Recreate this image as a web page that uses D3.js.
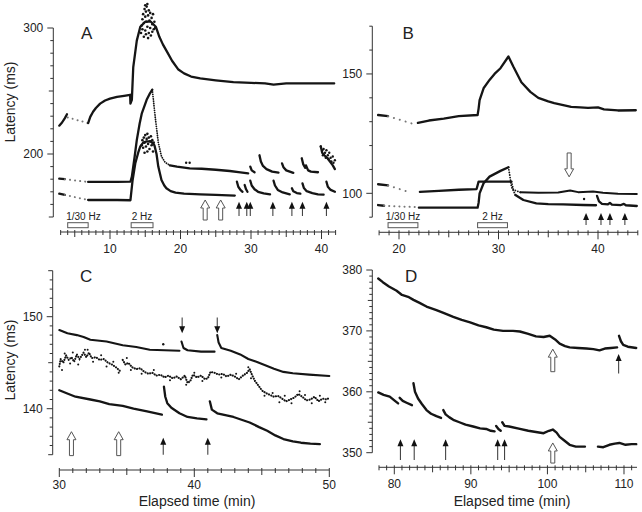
<!DOCTYPE html>
<html><head><meta charset="utf-8">
<script src="https://cdn.jsdelivr.net/npm/d3@7"></script>
<style>body{margin:0;background:#fff}svg{display:block}text{font-family:Arial,"Liberation Sans",sans-serif;fill:#222}</style>
</head><body><svg id="c" width="642" height="512"></svg>
<script>
// ---------------- Panel A data ----------------
const aXTicks = [10, 20, 30, 40];
const aYTicks = [200, 300];
const aTopPre = [[2.8,222.5],[3.2,225],[3.6,228.5],[3.9,231.5]];
const aTopGap = [[4.0,229],[6.9,224.5]];
const aTopMain = [[6.9,224.5],[7.2,229.5],[7.6,233.5],[8.0,236.5],[8.6,240],[9.3,242.5],[10,244],[11,245.3],[12,246.2],[12.85,247],[12.9,240],[13.1,243],[13.3,269],[13.8,290],[14.3,301],[15.0,305],[15.8,305],[16.5,301],[17.0,293],[17.5,287],[18.0,282],[18.8,274],[19.7,267],[20.5,264],[21.5,261.5],[22.8,260],[25,258.5],[27.5,257],[30,256.5],[32,256],[33.2,255],[35,256],[38,256],[41.8,256]];
const aTopScatter = [[14.4,296],[14.5,302],[14.6,299],[14.6,307],[14.7,311],[14.8,304],[14.9,315],[15.0,309],[15.0,298],[15.1,313],[15.2,317],[15.2,305],[15.3,301],[15.4,310],[15.5,314],[15.5,296],[15.6,306],[15.7,312],[15.7,300],[15.8,294],[15.9,308],[16.0,303],[16.0,297],[16.1,311],[16.2,299],[16.3,305],[16.4,300],[15.4,292],[15.1,295],[14.8,293],[15.3,319],[15.0,318]];
const aMidPre = [[2.8,180.5],[3.6,180]];
const aMidGap = [[3.6,180],[6.9,177.8]];
const aMidMain = [[6.9,177.8],[9,177.8],[11,177.8],[12.9,178],[13.1,182],[13.5,198],[13.8,211],[14.2,224],[14.5,232],[15.2,243],[15.6,247.5],[16.0,251]];
const aMidFall = [[16.0,251],[16.4,230],[16.85,209],[17.3,198],[17.8,193.5],[18.5,191]];
const aMidSegs = [
  [[18.5,191],[19.5,190],[21.3,188.6],[23,188.3],[25,187.5],[27,186.5],[28.5,185.5],[29.6,184.7]],
  [[29.9,190],[30.1,187],[30.5,185.5]],
  [[31.2,199],[31.4,194],[31.7,190.5],[32.2,188],[33,186],[33.9,185.2]],
  [[34.4,192.6],[34.6,189.5],[35,187],[36,185]],
  [[37.2,196.6],[37.4,192],[37.7,189],[37.8,191],[38.1,187],[38.5,186],[39.5,185.5]],
  [[39.9,206],[40.1,201],[40.4,199],[40.8,197],[41.2,194],[41.6,191],[41.9,188]]
];
const aMidScatter = [[39.9,206],[40.1,203],[40.2,199],[40.3,204],[40.5,201],[40.6,197],[40.7,203],[40.9,199],[41.0,196],[41.1,201],[41.3,197],[41.4,194],[41.6,198],[41.7,193],[41.9,195],[20.8,193],[21.3,193]];
const aBotPre = [[2.8,168.5],[3.6,167.5]];
const aBotGap = [[3.6,167.5],[6.9,163.5]];
const aBotMain = [[6.9,163.5],[9,163.5],[11,163.5],[12.9,163.3],[13.2,179],[13.6,193],[14.0,201],[14.3,206],[14.7,209],[15.2,210],[15.8,210],[16.3,207],[16.6,200],[16.85,190],[17.3,179.4],[17.7,175],[18.0,172.8],[18.6,170.5],[19.3,169.3],[20.5,168.5],[22.8,168],[25,167.5],[27.7,167]];
const aBotScatter = [[14.5,207],[14.6,211],[14.7,205],[14.8,213],[14.9,209],[15.0,215],[15.1,206],[15.2,212],[15.3,216],[15.4,208],[15.5,213],[15.6,204],[15.7,210],[15.8,214],[15.9,207],[16.0,211],[16.1,202],[16.2,209],[15.3,202],[14.9,201]];
const aBotSegs = [
  [[28.0,178],[28.2,174],[28.5,171.5],[28.8,170]],
  [[29.1,175.4],[29.3,172],[29.5,170]],
  [[29.9,178.8],[30.1,175],[30.5,172],[31,170],[31.8,168.8],[32.7,168]],
  [[33.2,178.8],[33.4,175],[33.8,171.5],[34.5,169.5],[35.5,168]],
  [[35.8,172.8],[36.0,170.5],[36.5,169],[37.0,168.5]],
  [[37.3,176.7],[37.5,173],[37.9,170.5],[38.7,169],[39.5,168],[40.3,167.7]],
  [[40.7,178],[40.9,174],[41.3,171.5],[41.9,170]]
];
const aOpenArrows = [23.5, 25.7];
const aOpenArrowY = [163.5, 147.6];
const aArrows = [28.3, 29.4, 29.9, 33.1, 35.8, 37.3, 40.7];
const aArrowY = [162.1, 150.8];
const aBars = [["1/30 Hz", 4.0, 6.9], ["2 Hz", 13.0, 16.1]];

// ---------------- Panel B data ----------------
const bXTicks = [20, 30, 40];
const bYTicks = [100, 150];
const bTopPre = [[17.9,132.8],[18.9,132.3]];
const bTopGap = [[18.9,132.3],[21.8,128.6]];
const bTopMain = [[21.9,129.5],[23,130.5],[24.5,131.3],[26,132.3],[27.9,132.8],[28.0,135.5],[28.1,139],[28.5,144],[29.1,147.5],[29.6,150],[30.2,152.4],[31.0,157.3],[31.5,153],[32.3,146.5],[33.2,142.5],[34,140],[35,138.5],[35.6,137.8],[37.3,136.2],[38.2,136],[39,135.8],[40,136],[40.6,135.2],[42,134.7],[43.8,134.8]];
const bMidPre = [[17.9,103.8],[18.9,103.3]];
const bMidGap = [[18.9,103.3],[20.8,100.8]];
const bMidMain = [[22.1,100.6],[24,101],[26,101.5],[27.8,101.8],[28.0,104.9],[31.3,104.9]];
const bMidFall = [[31.3,104.9],[31.5,101.5],[32.2,100.4]];
const bMidTail = [[32.2,100.4],[34,100.2],[36,100.3],[37.2,101.2],[38,100.5],[39.5,100.8],[40.5,100.2],[42,99.8],[43.9,99.7]];
const bBotPre = [[17.9,95.1],[18.5,94.8]];
const bBotGap = [[18.5,94.8],[21.8,94.2]];
const bBotMain = [[22,94.0],[25,94.0],[27.9,94.0],[28.0,96],[28.1,100],[28.5,104.2],[29.1,107],[30.2,109.4],[31.0,110.9]];
const bBotFall = [[31.0,110.9],[31.1,108.4],[31.3,102.8],[31.7,99.3]];
const bBotTail = [[31.7,99.3],[32.5,97.2],[33.8,95.8],[35,95.5],[36.5,95.4],[38.5,95.1],[39.8,95.0]];
const bBotSpike = [[39.9,98.9],[40.1,96.6],[40.4,95.6],[41.0,95.4],[41.2,96.0],[41.4,95.3],[42.3,95.1],[42.6,95.6],[42.8,95.0],[43.9,94.7]];
const bDots = [[38.6,97.6]];
const bOpenArrows = [37.1];
const bOpenArrowY = [106.9, 116.9];
const bArrows = [38.8, 40.3, 41.2, 42.7];
const bArrowY = [91.8, 86.7];
const bBars = [["1/30 Hz", 18.9, 21.9], ["2 Hz", 27.9, 30.9]];

// ---------------- Panel C data ----------------
const cXTicks = [30, 40, 50];
const cYTicks = [140, 150];
const cTopSegs = [
  [[30.0,148.55],[30.6,148.2],[31.3,148.0],[31.8,147.8],[32.3,147.5],[33.5,147.3],[34.7,146.9],[35.7,146.7],[36.7,146.4],[37.8,146.35],[38.9,146.3]],
  [[39.05,147.3],[39.2,146.6],[39.5,146.35],[40.5,146.2],[41.5,146.2]],
  [[41.7,148.0],[41.8,147.2],[42.0,146.6],[42.7,146.3],[43.4,145.9],[44.0,145.4],[44.6,145.1],[45.3,144.7],[45.9,144.35],[46.6,144.0],[47.3,143.85],[48.5,143.7],[50.0,143.55]]
];
const cTopDots = [[37.7,147.0]];
const cMidSegs = [
  [[30.0,144.6],[30.1,145.4],[30.3,145.0],[30.5,145.8],[30.7,145.3],[30.9,145.6],[31.1,145.1],[31.3,145.9],[31.5,145.4],[31.8,146.1],[32.0,145.6],[32.2,146.1],[32.4,145.5],[32.7,145.6],[33.0,145.3],[33.3,145.4],[33.6,145.0],[33.9,144.8],[34.2,144.5],[34.5,144.1]],
  [[34.7,145.3],[34.9,144.8],[35.1,145.0],[35.4,144.5],[35.7,144.3],[36.0,144.4],[36.3,144.0],[36.6,143.8],[36.9,143.9],[37.2,143.6],[37.5,143.7],[37.8,143.4],[38.1,143.6],[38.4,143.3],[38.7,143.5],[39.0,143.2],[39.3,143.6],[39.5,142.8],[39.7,143.0],[39.9,143.7],[40.2,143.4],[40.5,143.6],[40.8,143.2],[41.0,143.3],
   [41.2,144.0],[41.5,143.9],[41.8,143.7],[42.1,143.8],[42.4,143.5],[42.7,143.7],[43.0,143.5],[43.3,143.2],[43.6,143.6],[43.9,143.9],[44.1,144.3],[44.3,143.6],[44.5,143.0],[44.7,142.6],[45.0,142.0],[45.3,141.7],[45.6,141.5],[45.9,141.3],[46.2,141.4],[46.5,141.1],[46.8,140.8],[47.1,141.0],[47.4,141.2],[47.7,141.6],[48.0,141.3],[48.3,140.9],[48.6,141.0],[48.9,141.3],[49.2,140.8],[49.5,141.1],[49.8,141.0],[50.0,141.2]]
];
const cMidScatter = [[30.2,144.2],[30.4,146.0],[30.8,144.9],[31.0,146.1],[31.4,144.8],[31.9,146.4],[32.1,146.4],[32.5,145.1],[33.1,145.8],[33.5,144.6],[34.0,145.1],[34.4,143.9],[35.0,145.5],[35.3,144.2],[36.1,143.8],[37.0,144.2],[38.2,143.1],[39.4,142.6],[40.0,143.9],[40.6,143.0],[42.0,143.4],[43.1,143.8],[44.0,144.5],[44.2,143.3],[45.2,141.4],[45.8,141.7],[46.3,140.7],[46.7,141.4],[47.2,140.6],[47.8,141.9],[48.2,141.5],[48.7,140.6],[49.3,141.4],[49.7,140.7]];
const cBotSegs = [
  [[30.0,142.0],[30.5,141.7],[31.2,141.3],[32.3,141.0],[33.0,140.8],[33.7,140.5],[34.7,140.3],[35.5,140.0],[36.5,139.7],[37.6,139.35]],
  [[37.75,142.4],[37.85,141.3],[38.0,140.6],[38.3,140.1],[38.9,139.5],[39.5,139.1],[40.2,138.95],[40.9,138.85]],
  [[41.15,140.8],[41.3,139.9],[41.7,139.5],[42.3,139.3],[42.9,139.1],[43.5,138.8],[44.1,138.5],[44.8,138.0],[45.4,137.6],[46.0,137.1],[46.6,136.7],[47.3,136.45],[47.9,136.3],[48.6,136.2],[49.3,136.15]]
];
const cOpenArrows = [30.9, 34.4];
const cOpenArrowY = [137.5, 134.9];
const cArrows = [37.7, 41.0];
const cArrowY = [136.85, 135.0];
const cDownArrows = [39.1, 41.7];
const cDownArrowY = [148.2, 149.9];

// ---------------- Panel D data ----------------
const dXTicks = [80, 90, 100, 110];
const dYTicks = [350, 360, 370, 380];
const dTopSegs = [
  [[77.9,378.6],[78.5,378.0],[79.3,377.3],[80.3,376.6],[81.0,375.9],[81.8,375.6],[82.5,375.1],[83.3,374.6],[84.2,374.0],[85.5,373.4],[86.5,372.9],[87.7,372.3],[88.8,371.8],[89.9,371.4],[91.0,370.9],[92.0,370.6],[93.0,370.2],[94.2,370.0],[95.5,370.0],[96.4,369.9],[97.5,369.5],[98.5,369.1],[99.5,369.0],[100.3,369.2],[101.0,368.6],[101.6,367.9],[102.3,367.5],[102.9,367.3],[104,367.2],[105.1,367.1],[106,367.0],[106.8,366.8],[107.5,367.1],[108.3,367.2],[109.1,367.3]],
  [[109.35,369.2],[109.6,368.3],[109.9,367.7],[110.5,367.4],[111.6,367.2]]
];
const dBotSegs = [
  [[77.9,359.9],[78.6,359.5],[79.4,359.2],[80.0,358.6],[80.5,358.1]],
  [[80.7,359.0],[81.1,358.5],[81.6,358.2],[82.3,357.8]],
  [[82.5,361.4],[82.7,360.0],[83.1,358.9],[83.6,358.0],[84.2,357.0],[84.8,356.4],[85.5,356.0],[86.1,355.7]],
  [[86.4,357.0],[86.7,356.3],[87.2,355.8],[87.7,355.4],[88.5,355.0],[89.3,354.6],[90.3,354.3],[91.2,354.0],[92.0,353.9],[92.6,353.6],[93.1,353.5]],
  [[93.3,354.4],[93.6,353.9],[93.9,353.6]],
  [[94.1,355.0],[94.4,354.4],[95.0,354.3],[96.4,353.9],[97.5,353.6],[98.5,353.4],[99.5,353.2],[100.2,353.6],[100.7,353.8],[101.2,353.3],[101.6,352.6],[102.2,352.0],[102.9,351.3],[103.7,351.0],[104.9,351.0]],
  [[106.6,351.0],[107.3,350.9],[108.1,351.3],[108.8,351.5],[109.4,351.6],[110.2,351.3],[111.0,351.4],[111.6,351.4]]
];
const dOpenArrows = [100.7];
const dOpenArrowTopY = [367.0, 363.3];
const dOpenArrowBotY = [351.6, 348.3];
const dArrows = [80.8, 82.6, 86.7, 93.5, 94.4];
const dArrowY = [352.2, 348.8];
const dTopArrows = [109.3];
const dTopArrowY = [366.2, 363.0];

// ---------------- drawing ----------------
const svg = d3.select("#c");
const INK = "#151515";

function panel(cfg) {
  const g = svg.append("g");
  const x = d3.scaleLinear().domain(cfg.xd).range(cfg.xr);
  const y = d3.scaleLinear().domain(cfg.yd).range(cfg.yr);
  g.append("line").attr("x1", cfg.yAxisX).attr("x2", cfg.yAxisX)
    .attr("y1", y(cfg.yd[0])).attr("y2", y(cfg.yd[1])).attr("stroke", "#333");
  const ys = d3.range(cfg.yd[0], cfg.yd[1] + 1e-6, cfg.yMinor);
  ys.forEach(v => {
    const major = cfg.yTicks.includes(v);
    const mid = !major && cfg.yMid && Math.abs(v % cfg.yMid) < 1e-6;
    const len = major ? 6 : (mid ? 4.5 : 3);
    g.append("line").attr("x1", cfg.yAxisX - len).attr("x2", cfg.yAxisX)
      .attr("y1", y(v)).attr("y2", y(v)).attr("stroke", "#333");
  });
  cfg.yTicks.forEach(v => {
    g.append("text").attr("x", cfg.yAxisX - 10).attr("y", y(v)).attr("dy", "0.36em")
      .attr("text-anchor", "end").attr("font-size", 12).text(v);
  });
  g.append("line").attr("x1", x(cfg.xd[0])).attr("x2", x(cfg.xd[1]))
    .attr("y1", cfg.xAxisY).attr("y2", cfg.xAxisY).attr("stroke", "#333");
  d3.range(Math.ceil(cfg.xd[0]), Math.floor(cfg.xd[1]) + 1, 1).forEach(v => {
    const major = v % 10 === 0, mid = v % 5 === 0;
    const up = 2, dn = major ? 7 : (mid ? 5 : 3);
    g.append("line").attr("x1", x(v)).attr("x2", x(v))
      .attr("y1", cfg.xAxisY - up).attr("y2", cfg.xAxisY + dn).attr("stroke", "#333");
  });
  cfg.xTicks.forEach(v => {
    g.append("text").attr("x", x(v)).attr("y", cfg.xAxisY + cfg.xLabOff)
      .attr("text-anchor", "middle").attr("font-size", 12).text(v);
  });
  g.append("text").attr("x", cfg.letter[1]).attr("y", cfg.letter[2])
    .attr("font-size", 17).text(cfg.letter[0]);
  return {g, x, y};
}

const line = (x, y) => d3.line().x(d => x(d[0])).y(d => y(d[1]));
function solid(p, pts, w) {
  p.g.append("path").datum(pts).attr("d", line(p.x, p.y)).attr("fill", "none")
    .attr("stroke", INK).attr("stroke-width", w || 2.3).attr("stroke-linejoin", "round").attr("stroke-linecap", "round");
}
function dotted(p, pts, color, gap, w) {
  p.g.append("path").datum(pts).attr("d", line(p.x, p.y)).attr("fill", "none")
    .attr("stroke", color || "#777").attr("stroke-width", w || 2).attr("stroke-linecap", "round")
    .attr("stroke-dasharray", "0.1," + (gap || 5));
}
function dots(p, pts, r) {
  p.g.selectAll(null).data(pts).enter().append("circle")
    .attr("cx", d => p.x(d[0])).attr("cy", d => p.y(d[1])).attr("r", r || 1.2).attr("fill", INK);
}
function openArrow(p, xv, tipV, tailV) {
  const px = p.x(xv), tip = p.y(tipV), tail = p.y(tailV);
  const dir = tail > tip ? 1 : -1, hl = 8, hw = 4.5, sw = 2;
  const pts = [[px, tip], [px + hw, tip + dir * hl], [px + sw, tip + dir * hl], [px + sw, tail],
               [px - sw, tail], [px - sw, tip + dir * hl], [px - hw, tip + dir * hl]];
  p.g.append("polygon").attr("points", pts.map(d => d.join(",")).join(" "))
    .attr("fill", "#fff").attr("stroke", "#555").attr("stroke-width", 1);
}
function arrow(p, xv, tipV, tailV) {
  const px = p.x(xv), tip = p.y(tipV), tail = p.y(tailV);
  const dir = tail > tip ? 1 : -1;
  p.g.append("line").attr("x1", px).attr("x2", px).attr("y1", tail).attr("y2", tip + dir * 5)
    .attr("stroke", "#444").attr("stroke-width", 1.1);
  p.g.append("polygon").attr("points", [[px, tip], [px + 3, tip + dir * 7], [px - 3, tip + dir * 7]].map(d => d.join(",")).join(" "))
    .attr("fill", "#111");
}
function bars(p, list, yTop, anchors) {
  list.forEach((b, i) => {
    const x0 = p.x(b[1]), x1 = p.x(b[2]);
    p.g.append("rect").attr("x", x0).attr("y", yTop).attr("width", x1 - x0).attr("height", 5)
      .attr("fill", "#fff").attr("stroke", "#555").attr("stroke-width", 1);
    const a = anchors ? anchors[i] : "middle";
    p.g.append("text").attr("x", a === "start" ? x0 - 1.5 : (x0 + x1) / 2).attr("y", yTop - 2.5)
      .attr("text-anchor", a).attr("font-size", 10).text(b[0]);
  });
}

// Panel A
const A = panel({xd:[3,42], xr:[60.65,335.6], yd:[150,300], yr:[217,28], yAxisX:53.3, yMinor:10, yMid:50,
  yTicks:aYTicks, xAxisY:232, xTicks:aXTicks, xLabOff:21, letter:["A",81,39]});
solid(A, aTopPre); dotted(A, aTopGap); solid(A, aTopMain); dots(A, aTopScatter, 1.3);
solid(A, aMidPre); dotted(A, aMidGap); solid(A, aMidMain); dotted(A, aMidFall, INK, 2.2, 1.8);
aMidSegs.forEach(s => solid(A, s)); dots(A, aMidScatter, 1.2);
solid(A, aBotPre); dotted(A, aBotGap); solid(A, aBotMain); dots(A, aBotScatter, 1.3);
aBotSegs.forEach(s => solid(A, s));
aOpenArrows.forEach(v => openArrow(A, v, aOpenArrowY[0], aOpenArrowY[1]));
aArrows.forEach(v => arrow(A, v, aArrowY[0], aArrowY[1]));
bars(A, aBars, 222.7, ["start", "middle"]);

// Panel B
const B = panel({xd:[18,44], xr:[379.1,637.8], yd:[90,170], yr:[217.2,26.2], yAxisX:372.3, yMinor:10,
  yTicks:bYTicks, xAxisY:232.3, xTicks:bXTicks, xLabOff:21, letter:["B",402.5,39]});
solid(B, bTopPre); dotted(B, bTopGap, "#777", 6); solid(B, bTopMain);
solid(B, bMidPre); dotted(B, bMidGap, "#777", 6); solid(B, bMidMain); dotted(B, bMidFall, INK, 2.5, 1.8); solid(B, bMidTail, 2);
solid(B, bBotPre); dotted(B, bBotGap, "#777", 5); solid(B, bBotMain); dotted(B, bBotFall, INK, 2.5, 1.8);
solid(B, bBotTail); solid(B, bBotSpike); dots(B, bDots, 1.2);
bOpenArrows.forEach(v => openArrow(B, v, bOpenArrowY[0], bOpenArrowY[1]));
bArrows.forEach(v => arrow(B, v, bArrowY[0], bArrowY[1]));
bars(B, bBars, 222.7);

// Panel C
const C = panel({xd:[30,50], xr:[59.3,329.3], yd:[135,155], yr:[454.7,270.7], yAxisX:52.7, yMinor:1, yMid:5,
  yTicks:cYTicks, xAxisY:470, xTicks:cXTicks, xLabOff:19, letter:["C",80,282]});
cTopSegs.forEach(s => solid(C, s, 2.1)); dots(C, cTopDots, 1.2);
cMidSegs.forEach(s => dotted(C, s, INK, 2.4, 2.1));
dots(C, cMidScatter, 1.0);
cBotSegs.forEach(s => solid(C, s, 2.3));
cOpenArrows.forEach(v => openArrow(C, v, cOpenArrowY[0], cOpenArrowY[1]));
cArrows.forEach(v => arrow(C, v, cArrowY[0], cArrowY[1]));
cDownArrows.forEach(v => arrow(C, v, cDownArrowY[0], cDownArrowY[1]));

// Panel D
const D = panel({xd:[78,111.7], xr:[379.0,637.0], yd:[350,380], yr:[452.7,270], yAxisX:372.3, yMinor:1, yMid:5,
  yTicks:dYTicks, xAxisY:467.3, xTicks:dXTicks, xLabOff:21, letter:["D",405,282]});
dTopSegs.forEach(s => solid(D, s, 2.4));
dBotSegs.forEach(s => solid(D, s, 2.4));
dOpenArrows.forEach(v => { openArrow(D, v, dOpenArrowTopY[0], dOpenArrowTopY[1]); openArrow(D, v, dOpenArrowBotY[0], dOpenArrowBotY[1]); });
dArrows.forEach(v => arrow(D, v, dArrowY[0], dArrowY[1]));
dTopArrows.forEach(v => arrow(D, v, dTopArrowY[0], dTopArrowY[1]));

// axis titles
svg.append("text").attr("transform", "translate(15,102) rotate(-90)").attr("text-anchor", "middle").attr("font-size", 14).text("Latency (ms)");
svg.append("text").attr("transform", "translate(15,360) rotate(-90)").attr("text-anchor", "middle").attr("font-size", 14).text("Latency (ms)");
svg.append("text").attr("x", 197).attr("y", 506).attr("text-anchor", "middle").attr("font-size", 14).text("Elapsed time (min)");
svg.append("text").attr("x", 512).attr("y", 506).attr("text-anchor", "middle").attr("font-size", 14).text("Elapsed time (min)");
</script></body></html>
